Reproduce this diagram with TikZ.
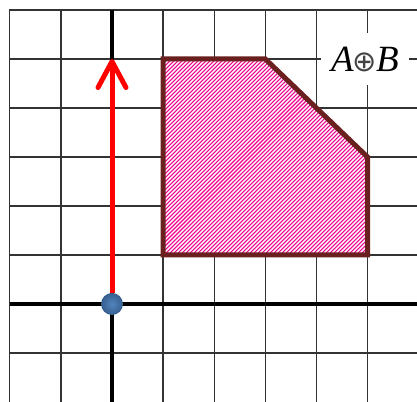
\documentclass[tikz,border=0pt]{standalone}
\usepackage{fontspec}
\setmainfont{Liberation Serif}
\newfontfamily\symfont{DejaVu Sans}
\usetikzlibrary{arrows.meta}
\definecolor{gridc}{HTML}{333333}
\definecolor{outl}{HTML}{6B2020}
\definecolor{dotin}{HTML}{5384BE}
\definecolor{dotout}{HTML}{365F8E}
\definecolor{opc}{HTML}{444444}
\begin{document}
\begin{tikzpicture}[x=51.1pt,y=49pt,
  gridline/.style={draw=gridc,line width=1.4pt,line cap=rect},
  axisline/.style={draw=black,line width=3.2pt},
  regionfill/.style={fill=magenta},
  stripe/.style={draw=white,line width=1.414pt},
  regionline/.style={draw=outl,line width=5pt,line join=miter},
  vec/.style={draw=red,line width=5pt,-{Straight Barb[length=26pt,width=28pt,round]}},
  dotnode/.style={circle,minimum size=22pt,inner sep=0pt,inner color=dotin,outer color=dotout},
  lab/.style={fill=white,inner xsep=10pt,inner ysep=14pt,font=\fontsize{37}{40}\selectfont}]
\useasboundingbox (-112pt,-97pt) rectangle (305pt,304pt);
\clip (-112pt,-97pt) rectangle (305pt,304pt);
% grid
\foreach \x in {-2,...,5} \draw[gridline] (\x,6) -- (\x,-2.2);
\foreach \y in {-1,...,6} \draw[gridline] (-2,\y) -- (6.2,\y);
% axes
\draw[axisline] (-2,0) -- (6.2,0);
\draw[axisline] (0,6) -- (0,-2.2);
% region with hatching
\begin{scope}
  \clip (1,5) -- (3,5) -- (5,3) -- (5,1) -- (1,1) -- cycle;
  \fill[regionfill] (1,5) -- (3,5) -- (5,3) -- (5,1) -- (1,1) -- cycle;
  \foreach \i in {0,...,170}
    \draw[stripe] (\i*4pt-320pt,-97pt) -- ++(420pt,420pt);
\end{scope}
\draw[regionline] (1,5) -- (3,5) -- (5,3) -- (5,1) -- (1,1) -- cycle;
% label
\node[lab] (L) at (4.95,5) {\textit{A}\kern-1pt{\symfont\fontsize{29}{30}\selectfont\color{opc}⊕}\kern-1pt\textit{B}};
% vector
\coordinate (T) at (0,5);
\node[dotnode] (O) at (0,0) {};
\draw[vec] (O) -- (T);
\end{tikzpicture}
\end{document}
